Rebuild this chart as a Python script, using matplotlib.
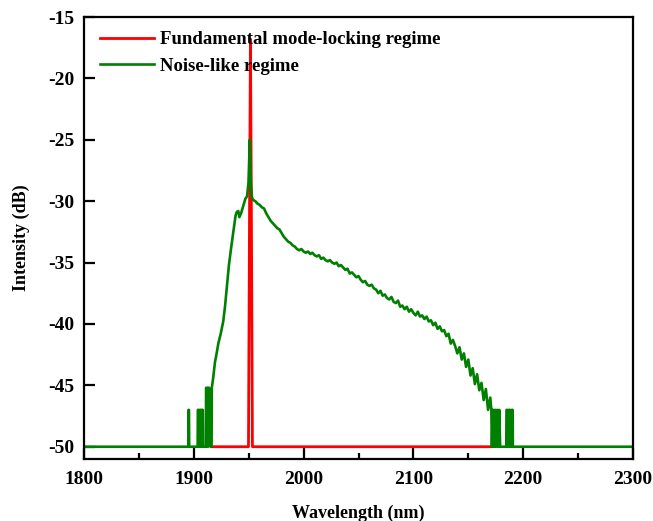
import matplotlib
matplotlib.use('Agg')
import matplotlib.pyplot as plt
from matplotlib.ticker import MultipleLocator

plt.rcParams['font.family'] = ['Liberation Serif', 'DejaVu Serif']
plt.rcParams['font.weight'] = 'bold'
plt.rcParams['axes.unicode_minus'] = False

# --- datos ---
# regimen de mode-locking fundamental (rojo)
fml_wl = [1916.2, 1949.8, 1950.8, 1951.6, 1952.4, 1953.4, 2171.5]
fml_db = [-50, -50, -30, -16.8, -30, -50, -50]

# regimen noise-like (verde): borde izquierdo con picos
left_wl = [1800, 1895, 1895.2, 1895.6, 1895.8,
           1903.5, 1903.7, 1904.5, 1904.7,
           1905.5, 1905.7, 1906.5, 1906.7,
           1907.3, 1907.5, 1908.2, 1908.4,
           1911.0, 1911.2, 1912.2, 1912.4,
           1913.0, 1913.2, 1914.0, 1914.2, 1915.0, 1915.2,
           1916.2, 1916.4, 1917.5, 1919.3, 1921, 1922.3, 1924.5, 1926.8,
           1928.4, 1930, 1932, 1934, 1936, 1938, 1939, 1940.5, 1941.5,
           1943, 1945, 1947, 1948.5, 1949.8, 1951.0, 1952.0]
left_db = [-50, -50, -47, -47, -50,
           -50, -47, -47, -50,
           -50, -47, -47, -50,
           -50, -47, -47, -50,
           -50, -45.2, -45.2, -50,
           -50, -45.2, -45.2, -47, -47, -50,
           -50, -45.2, -44.5, -43.1, -42.3, -41.6, -40.8, -39.8,
           -38.6, -37.1, -35.2, -33.8, -32.5, -31.2, -30.9, -30.8, -31.3,
           -31.0, -30.4, -29.8, -29.6, -28.5, -25.0, -28.5]

# parte principal (pendiente con ruido)
main_wl = [1953, 1954, 1956, 1958, 1960, 1962, 1964, 1966, 1968, 1970,
           1972, 1974, 1976, 1978, 1980, 1982, 1984, 1986, 1988, 1990,
           1992, 1994, 1996, 1998, 2000, 2002, 2004, 2006, 2008, 2010,
           2012, 2014, 2016, 2018, 2020, 2022, 2024, 2026, 2028, 2030,
           2032, 2034, 2036, 2038, 2040, 2042, 2044, 2046, 2048, 2050,
           2052, 2054, 2056, 2058, 2060, 2062, 2064, 2066, 2068, 2070,
           2072, 2074, 2076, 2078, 2080, 2082, 2084, 2086, 2088, 2090,
           2092, 2094, 2096, 2098, 2100, 2102, 2104, 2106, 2108, 2110,
           2112, 2114, 2116, 2118, 2120, 2122, 2124, 2126, 2128, 2130,
           2132, 2134, 2136, 2138, 2140, 2142, 2144, 2146, 2148, 2150,
           2152, 2154, 2156, 2158, 2160, 2162, 2164, 2166, 2168, 2170]
main_db = [-29.7, -29.9, -30.0, -30.2, -30.3, -30.5, -30.6, -31.0, -31.3, -31.6,
           -31.8, -32.0, -32.2, -32.3, -32.6, -32.9, -33.1, -33.3, -33.4, -33.6,
           -33.7, -33.9, -34.0, -33.9, -34.1, -34.2, -34.1, -34.3, -34.2, -34.4,
           -34.5, -34.4, -34.7, -34.6, -34.8, -34.9, -34.8, -35.0, -35.1, -35.0,
           -35.3, -35.2, -35.4, -35.6, -35.5, -35.9, -35.8, -36.0, -36.2, -36.1,
           -36.4, -36.6, -36.5, -36.8, -36.9, -36.8, -37.1, -37.2, -37.5, -37.3,
           -37.7, -37.6, -37.9, -38.0, -37.8, -38.2, -38.3, -38.1, -38.6, -38.5,
           -38.8, -38.6, -39.0, -38.8, -39.1, -39.3, -39.0, -39.4, -39.3, -39.6,
           -39.4, -39.8, -39.7, -40.1, -39.9, -40.4, -40.2, -40.6, -40.5, -41.0,
           -40.8, -41.6, -41.3, -41.8, -42.4, -41.9, -42.9, -42.4, -43.5, -42.9,
           -44.2, -43.6, -44.9, -44.1, -45.4, -44.8, -46.2, -45.3, -47.0, -46.0]

# borde derecho con picos
tail_wl = [2171, 2171.5, 2172.2, 2172.8, 2173.5, 2174.2, 2175, 2175.8, 2176.6,
           2177.4, 2178.2, 2179, 2184.6, 2184.8, 2185.6, 2185.8, 2186.8,
           2187, 2188, 2188.2, 2189.4, 2189.6, 2190.4, 2190.6, 2300]
tail_db = [-47, -50, -47, -50, -47, -50, -47, -50, -47,
           -50, -47, -50, -50, -47, -47, -50, -50,
           -47, -47, -50, -50, -47, -47, -50, -50]

noise_wl = left_wl + main_wl + tail_wl
noise_db = left_db + main_db + tail_db

labels = ['Fundamental mode-locking regime', 'Noise-like regime']

fig = plt.figure(figsize=(6.53, 5.21), dpi=100)
ax = fig.add_axes([84 / 653, 62 / 521, 549 / 653, 442 / 521])

ax.plot(fml_wl, fml_db, color='#ff0000', lw=2.0, label=labels[0])
ax.plot(noise_wl, noise_db, color='#008000', lw=1.9, label=labels[1])

ax.set_xlim(1800, 2300)
ax.set_ylim(-51, -15)
ax.xaxis.set_major_locator(MultipleLocator(100))
ax.xaxis.set_minor_locator(MultipleLocator(50))
ax.yaxis.set_major_locator(MultipleLocator(5))

ax.tick_params(which='major', direction='in', length=8, width=1.6, labelsize=14, pad=7)
ax.tick_params(axis='x', which='major', pad=9)
ax.tick_params(which='minor', direction='in', length=4, width=1.6)
ax.tick_params(axis='x', which='both', top=False)
ax.tick_params(axis='y', which='both', right=False)
for s in ax.spines.values():
    s.set_linewidth(1.6)

ax.set_xlabel('Wavelength (nm)', fontsize=13, fontweight='bold', labelpad=12)
ax.set_ylabel('Intensity (dB)', fontsize=13, fontweight='bold', labelpad=13)

ax.legend(loc='upper left', bbox_to_anchor=(0.029, 0.968), frameon=False,
          fontsize=13.5, handlelength=2.9, handletextpad=0.3, labelspacing=0.5,
          borderpad=0, borderaxespad=0)

plt.savefig('out.png', dpi=100)
